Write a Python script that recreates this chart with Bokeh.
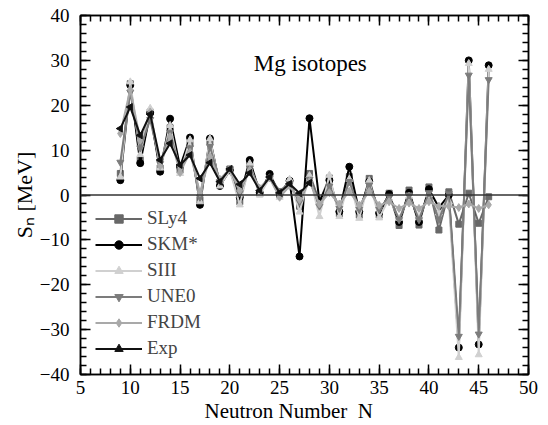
import math
from bokeh.plotting import figure
from bokeh.models import Span, Label, LinearAxis, SingleIntervalTicker, Range1d
from bokeh.embed import file_html
from bokeh.resources import INLINE

N_model = list(range(9, 47))
N_exp = list(range(9, 29))

sly4 = [4.8, 24.8, 7.8, 18.5, 6.0, 15.0, 5.5, 11.5, -1.1, 12.0, 2.5, 5.8, -1.5, 7.0, 0.3, 4.3, 0.0, 3.0,
        -2.5, 4.8, -1.5, 3.8, -4.2, 4.1, -4.5, 3.7, -4.5, 0.4, -6.8, 1.1, -6.7, 1.8, -7.8, 0.7, -6.5, 0.4, -6.3, -0.4]
skm = [3.3, 24.5, 7.1, 18.3, 5.2, 17.0, 6.3, 12.8, -2.2, 12.6, 2.0, 5.5, -0.5, 7.8, 0.5, 4.7, 0.3, 3.2,
       -13.7, 17.1, -1.5, 3.3, -3.7, 6.3, -3.7, 3.0, -4.0, 0.2, -6.0, 0.5, -6.0, 1.3, -2.8, 0.0, -34.0, 30.0, -33.3, 28.9]
siii = [4.0, 25.2, 9.0, 19.3, 6.0, 15.5, 4.8, 12.3, -1.5, 12.5, 2.0, 5.5, -2.2, 7.0, 0.0, 3.8, -0.5, 3.5,
        -3.8, 4.3, -4.8, 4.4, -4.8, 3.5, -5.2, 3.2, -5.1, -0.8, -5.2, -0.3, -5.0, 0.0, -4.0, -1.5, -36.2, 29.3, -35.6, 28.0]
une0 = [7.3, 22.9, 10.5, 16.8, 7.0, 14.0, 5.5, 10.5, -0.5, 10.8, 3.0, 5.8, 0.5, 6.0, 1.5, 3.8, 1.0, 2.5,
        -1.5, 3.5, -2.5, 2.0, -3.0, 3.0, -3.2, 2.2, -3.2, -0.3, -5.5, 0.0, -5.5, 0.5, -5.5, 0.3, -31.5, 26.7, -31.0, 25.7]
frdm = [13.7, 23.5, 12.2, 18.5, 6.5, 13.0, 5.0, 9.5, 0.5, 8.5, 3.5, 5.8, 1.0, 5.5, 1.5, 3.8, -0.5, 2.0,
        -1.0, 3.0, -2.0, 0.5, -2.0, 0.8, -2.3, 0.8, -2.3, -1.5, -3.0, -1.8, -3.0, -1.5, -2.5, -2.5, -2.8, -2.0, -3.0, -2.2]
exp = [14.8, 19.6, 13.3, 18.0, 7.8, 11.5, 6.7, 8.9, 3.7, 7.2, 3.0, 5.8, 2.4, 4.9, 1.0, 4.0, 0.5, 2.5, 0.4, 2.7]

series = [
    ("SLy4", N_model, sly4, "#686868", "square", 6, 0),
    ("SKM*", N_model, skm, "#000000", "circle", 7, 0),
    ("SIII", N_model, siii, "#d0d0d0", "triangle", 7, 0),
    ("UNE0", N_model, une0, "#7c7c7c", "inverted_triangle", 7, 0),
    ("FRDM", N_model, frdm, "#a9a9a9", "diamond", 8, 0),
    ("Exp", N_exp, exp, "#111111", "triangle", 7, math.pi / 2),
]

FONT = "Liberation Serif"

p = figure(width=548, height=425, output_backend="svg", toolbar_location=None,
           x_range=Range1d(5, 50), y_range=Range1d(-40, 40),
           min_border_left=80, min_border_right=20, min_border_top=15, min_border_bottom=50)
p.grid.visible = False
p.outline_line_color = "black"
p.outline_line_width = 1.5
p.background_fill_color = "white"
p.border_fill_color = "white"

xt = SingleIntervalTicker(interval=5, num_minor_ticks=5)
yt = SingleIntervalTicker(interval=10, num_minor_ticks=5)
p.xaxis.ticker = xt
p.yaxis.ticker = yt

for ax in [p.xaxis[0], p.yaxis[0]]:
    ax.major_tick_in = 10
    ax.major_tick_out = 0
    ax.minor_tick_in = 6
    ax.minor_tick_out = 0
    ax.axis_line_width = 1.5
    ax.major_tick_line_width = 1.5
    ax.minor_tick_line_width = 1.5
    ax.major_label_text_font = FONT
    ax.major_label_text_font_size = "19px"
    ax.major_label_text_color = "black"
    ax.axis_label_text_font = FONT
    ax.axis_label_text_font_style = "normal"
    ax.axis_label_text_color = "black"
p.xaxis.major_label_standoff = 6
p.yaxis.major_label_standoff = 11
p.xaxis.axis_label = "Neutron Number\u00a0 N\u2003\u2002"
p.xaxis.axis_label_text_font_size = "21px"
p.xaxis.axis_label_standoff = 2
p.yaxis.axis_label = "S\u2099 [MeV]"
p.yaxis.axis_label_text_font_size = "22px"
p.yaxis.axis_label_standoff = 0
p.yaxis.axis_label_text_baseline = "top"

xticks = list(range(5, 51, 5))
yticks = list(range(-40, 41, 10))
for loc, tk, vals in [("above", xt, xticks), ("right", yt, yticks)]:
    ax = LinearAxis(ticker=tk, major_tick_in=10, major_tick_out=0, minor_tick_in=6, minor_tick_out=0,
                    axis_line_width=1.5, major_tick_line_width=1.5, minor_tick_line_width=1.5,
                    major_label_overrides={v: "" for v in vals}, major_label_standoff=0)
    p.add_layout(ax, loc)

p.add_layout(Span(location=0, dimension="width", line_color="#333333", line_width=1.5))

for name, xs, ys, col, mk, sz, ang in series:
    p.line(xs, ys, line_color=col, line_width=2, legend_label=name)
    p.scatter(xs, ys, marker=mk, size=sz, angle=ang, fill_color=col, line_color=col, legend_label=name)

leg = p.legend[0]
leg.location = (15, 15)
leg.border_line_alpha = 0
leg.background_fill_alpha = 0
leg.label_text_font = FONT
leg.label_text_font_size = "19px"
leg.glyph_width = 47
leg.glyph_height = 21
leg.label_height = 21
leg.spacing = 4
leg.padding = 0
leg.margin = 0
leg.label_standoff = 5

p.add_layout(Label(x=22.4, y=29.3, text="Mg isotopes", text_font=FONT, text_font_size="23px",
                   text_baseline="alphabetic", text_color="black"))

open("out.html", "w").write(file_html(p, INLINE))
